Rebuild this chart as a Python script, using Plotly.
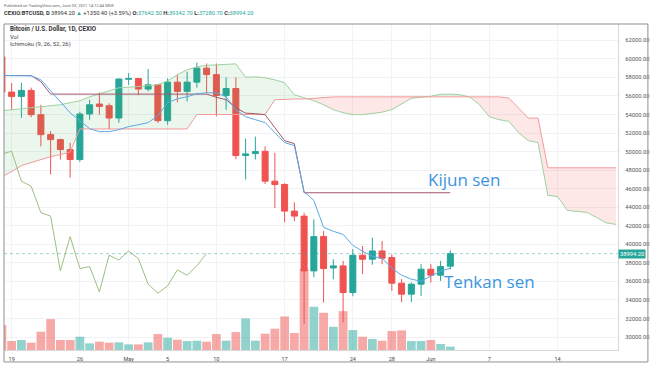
import plotly.graph_objects as go
import pandas as pd

# ---------------- data ----------------
dates = pd.date_range("2021-04-18", "2021-06-03", freq="D")          # 47 daily candles
cloud_dates = pd.date_range("2021-04-18", periods=64, freq="D")      # cloud runs 26 bars ahead
chikou_dates = pd.date_range("2021-04-18", periods=22, freq="D")

open_ = [60200, 56420, 55950, 56600, 53980, 51830, 51290, 50220, 49140, 54050,
         55130, 54950, 53620, 57800, 57880, 56740, 57200, 53330, 57490, 56490,
         57490, 59000, 58300, 56050, 56800, 49570, 49780, 50030, 46810, 46450,
         43580, 43040, 37130, 40830, 37450, 37670, 34800, 38820, 38390, 39280,
         38570, 35810, 34620, 35700, 37310, 36670, 37642.5]
high = [60900, 57400, 57400, 56900, 55050, 52200, 51400, 50970, 54300, 55590,
        56380, 55200, 57900, 58460, 57900, 58900, 57300, 57900, 58300, 58600,
        59600, 59500, 59500, 58000, 58000, 51400, 51610, 50570, 49860, 46600,
        44520, 43400, 42690, 41430, 38390, 38210, 39500, 39820, 40720, 40350,
        38920, 36240, 35900, 37850, 37850, 38210, 39342.7]
low = [55800, 54500, 53650, 53700, 50570, 47530, 49140, 47200, 48900, 53440,
       53980, 52400, 53100, 57200, 56100, 56500, 53100, 52900, 55300, 55400,
       56900, 56300, 53800, 54500, 49200, 46990, 49140, 46500, 43900, 42360,
       42500, 31400, 36450, 33730, 36240, 31580, 34400, 36770, 37800, 37850,
       34980, 33760, 33760, 34440, 35880, 36050, 37280.7]
close = [56420, 55950, 56600, 53980, 51830, 51290, 50220, 49140, 54050, 55050,
         54870, 53620, 57820, 57880, 56740, 57200, 53330, 57490, 56490, 57490,
         59000, 58300, 56050, 56800, 49570, 49750, 50000, 46810, 46450, 43580,
         43040, 37130, 40830, 37390, 37670, 34800, 38820, 38390, 39280, 38490,
         35810, 34620, 35700, 37310, 36670, 37600, 38994.2]
volume = [750, 270, 300, 220, 550, 930, 300, 300, 400, 200,
          250, 220, 230, 170, 170, 230, 480, 370, 310, 270,
          280, 250, 480, 280, 540, 950, 280, 490, 640, 1010,
          510, 2450, 1300, 1120, 700, 1170, 600, 400, 330, 280,
          570, 590, 270, 270, 300, 180, 100]

tenkan = [58200, 58200, 58200, 58170, 57740, 56560, 55380, 54190, 53330, 52470,
          52150, 52150, 52370, 52690, 52900, 53120, 53870, 55270, 55700, 55910,
          56240, 56340, 56340, 55910, 54520, 53760, 53440, 53120, 52040, 50970,
          50640, 45700, 44730, 41830, 41400, 41070, 39890, 39250, 38710, 38490,
          37420, 36670, 36240, 36020, 36560, 37100, 37420]
kijun = [58200, 58200, 58200, 58200, 57530, 56200, 56200, 56200, 56200, 56200,
         56200, 56200, 56200, 56200, 56200, 56200, 56200, 56200, 56200, 56200,
         56200, 56200, 55860, 55590, 54730, 54140, 54090, 53980, 52580, 51180,
         50860, 45560, 45560, 45560, 45560, 45560, 45560, 45560, 45560, 45560,
         45560, 45560, 45560, 45560, 45560, 45560, 45560]
senkou_a = [54410, 54520, 54620, 54730, 54840, 54950, 55050, 55270, 55480, 55910,
            56240, 56560, 56880, 56940, 56990, 57100, 57200, 57630, 58280, 58820,
            59140, 59300, 59350, 59410, 59460, 58010, 58060, 57960, 57740, 57420,
            56130, 55810, 55480, 55050, 54520, 54190, 53980, 53980, 54090, 54250,
            54520, 55110, 55750, 55860, 55970, 56180, 56200, 56130, 55880, 55050,
            53760, 53440, 53260, 52040, 51180, 50970, 45270, 45160, 43660, 43550,
            43440, 42900, 42310, 42150]
senkou_b = [47310, 47850, 48490, 48820, 49140, 49460, 49680, 49950, 52440, 52440,
            52440, 52440, 52440, 52440, 52440, 52440, 52440, 52440, 52440, 52440,
            54000, 54000, 54000, 54000, 54000, 54000, 54000, 54000, 55590, 55670,
            55670, 55670, 55750, 55900, 55900, 55900, 55900, 55900, 55900, 55900,
            55900, 55900, 55900, 55900, 55900, 55900, 55900, 55900, 55900, 55900,
            55900, 55900, 55770, 54730, 53620, 53620, 48250, 48250, 48250, 48250,
            48250, 48250, 48250, 48250]
chikou = [49750, 50030, 46810, 46270, 43410, 43040, 37130, 40830, 37390, 37600,
          34870, 38820, 38310, 39280, 38460, 35700, 34730, 35520, 37240, 36670,
          37670, 39030]

tick_dates = ["2021-04-19", "2021-04-26", "2021-05-01", "2021-05-05", "2021-05-10",
              "2021-05-17", "2021-05-24", "2021-05-28", "2021-06-01", "2021-06-07",
              "2021-06-14"]
tick_text = ["19", "26", "May", "5", "10", "17", "24", "28", "Jun", "7", "14"]
last_price = 38994.2

UP = "#26a69a"
DOWN = "#ef5350"

# ---------------- cloud geometry (insert crossing points) ----------------
cd = list(cloud_dates)
xs, av, bv = [], [], []
for i in range(len(cd)):
    if i > 0:
        da = senkou_a[i - 1] - senkou_b[i - 1]
        db = senkou_a[i] - senkou_b[i]
        if da * db < 0:
            t = da / (da - db)
            xc = cd[i - 1] + (cd[i] - cd[i - 1]) * t
            yc = senkou_a[i - 1] + (senkou_a[i] - senkou_a[i - 1]) * t
            xs.append(xc); av.append(yc); bv.append(yc)
    xs.append(cd[i]); av.append(senkou_a[i]); bv.append(senkou_b[i])
mx = [max(a, b) for a, b in zip(av, bv)]

fig = go.Figure()
nl = dict(width=0)
fig.add_trace(go.Scatter(x=xs, y=bv, mode="lines", line=nl, hoverinfo="skip"))
fig.add_trace(go.Scatter(x=xs, y=mx, mode="lines", line=nl, fill="tonexty",
                         fillcolor="rgba(76,175,80,0.11)", hoverinfo="skip"))
fig.add_trace(go.Scatter(x=xs, y=av, mode="lines", line=nl, hoverinfo="skip"))
fig.add_trace(go.Scatter(x=xs, y=mx, mode="lines", line=nl, fill="tonexty",
                         fillcolor="rgba(244,67,54,0.12)", hoverinfo="skip"))

# volume
vol_colors = ["rgba(38,166,154,0.5)" if c >= o else "rgba(239,83,80,0.5)"
              for o, c in zip(open_, close)]
fig.add_trace(go.Bar(x=dates, y=volume, marker=dict(color=vol_colors, line=dict(width=0)),
                     width=0.9 * 86400000, yaxis="y2"))

# ichimoku lines
fig.add_trace(go.Scatter(x=cloud_dates, y=senkou_a, mode="lines",
                         line=dict(color="#9fd19f", width=1)))
fig.add_trace(go.Scatter(x=cloud_dates, y=senkou_b, mode="lines",
                         line=dict(color="#f29b9b", width=1)))
fig.add_trace(go.Scatter(x=chikou_dates, y=chikou, mode="lines",
                         line=dict(color="#9cbf84", width=1)))
fig.add_trace(go.Scatter(x=dates, y=kijun, mode="lines",
                         line=dict(color="#a4576a", width=1)))
fig.add_trace(go.Scatter(x=dates, y=tenkan, mode="lines",
                         line=dict(color="#5aa9e6", width=1)))

# candles
fig.add_trace(go.Candlestick(
    x=dates, open=open_, high=high, low=low, close=close,
    increasing=dict(line=dict(color=UP, width=1), fillcolor=UP),
    decreasing=dict(line=dict(color=DOWN, width=1), fillcolor=DOWN),
    whiskerwidth=0))

FONT = "Roboto, Arial, sans-serif"
fig.update_layout(
    width=654, height=366,
    margin=dict(l=4, r=34, t=24, b=15),
    paper_bgcolor="white", plot_bgcolor="white",
    showlegend=False,
    boxgap=0.12,
    font=dict(family=FONT, size=5, color="#555"),
    xaxis=dict(type="date", range=["2021-04-18 05:10", "2021-06-20 04:48"],
               tickvals=tick_dates, ticktext=tick_text,
               showgrid=True, gridcolor="#f0f2f6", gridwidth=1,
               tickfont=dict(size=5.5, color="#444"), ticks="",
               showline=True, linecolor="#d8d8d8", linewidth=1,
               rangeslider=dict(visible=False), zeroline=False,
               ticklabelstandoff=3),
    yaxis=dict(side="right", range=[28600, 63760], dtick=2000, tick0=0,
               tickformat=".2f", showgrid=True, gridcolor="#f0f2f6",
               tickfont=dict(size=5.8, color="#555"), ticks="",
               showline=True, linecolor="#d8d8d8", linewidth=1, zeroline=False,
               ticklabelstandoff=5),
    yaxis2=dict(overlaying="y", range=[0, 9810], visible=False),
)

# last price line + badge
fig.add_shape(type="line", xref="paper", yref="y", x0=0, x1=1, y0=last_price, y1=last_price,
              line=dict(color="rgba(38,166,154,0.45)", width=1, dash="dot"))
fig.add_annotation(xref="paper", yref="y", x=1.0, y=last_price, xanchor="left", yanchor="middle",
                   text="38994.20", showarrow=False, bgcolor=UP, borderpad=1,
                   font=dict(size=5.8, color="white", family=FONT))

# frame
fig.add_shape(type="rect", xref="paper", yref="paper", x0=0, x1=1.0487, y0=-0.0367, y1=1.0,
              line=dict(color="#8f8f8f", width=1))

# header texts
fig.add_annotation(xref="paper", yref="paper", x=-0.004, y=1.058, xanchor="left", yanchor="middle",
                   text="Published on TradingView.com, June 03, 2021 14:12:44 MSK",
                   showarrow=False, font=dict(size=4.1, color="#666", family=FONT))
fig.add_annotation(xref="paper", yref="paper", x=-0.004, y=1.031, xanchor="left", yanchor="middle",
                   text=("<b>CEXIO:BTCUSD, D</b> 38994.20 <span style='color:#26a69a'>▲</span> +1350.40 (+3.59%) "
                         "<b>O:</b><span style='color:#26a69a'>37642.50</span> "
                         "<b>H:</b><span style='color:#26a69a'>39342.70</span> "
                         "<b>L:</b><span style='color:#26a69a'>37280.70</span> "
                         "<b>C:</b><span style='color:#26a69a'>38994.20</span>"),
                   showarrow=False, font=dict(size=5.7, color="#333", family=FONT))

# in-chart legend
fig.add_annotation(xref="paper", yref="paper", x=0.007, y=0.985, xanchor="left", yanchor="middle",
                   text="<b>Bitcoin / U.S. Dollar, 1D, CEXIO</b>", showarrow=False,
                   font=dict(size=6.3, color="#333", family=FONT))
fig.add_annotation(xref="paper", yref="paper", x=0.007, y=0.960, xanchor="left", yanchor="middle",
                   text="Vol", showarrow=False, font=dict(size=5.9, color="#444", family=FONT))
fig.add_annotation(xref="paper", yref="paper", x=0.007, y=0.936, xanchor="left", yanchor="middle",
                   text="Ichimoku (9, 26, 52, 26)", showarrow=False,
                   font=dict(size=5.9, color="#444", family=FONT))

# labels
fig.add_annotation(xref="paper", yref="paper", x=0.688, y=0.523, xanchor="left", yanchor="middle",
                   text="Kijun sen", showarrow=False,
                   font=dict(size=17, color="#3b95e0", family="Open Sans, sans-serif"))
fig.add_annotation(xref="paper", yref="paper", x=0.7127, y=0.211, xanchor="left", yanchor="middle",
                   text="Tenkan sen", showarrow=False,
                   font=dict(size=17, color="#3b95e0", family="Open Sans, sans-serif"))

fig.write_html("out.html", config={"displayModeBar": False},
               post_script="document.body.style.margin='0';")
